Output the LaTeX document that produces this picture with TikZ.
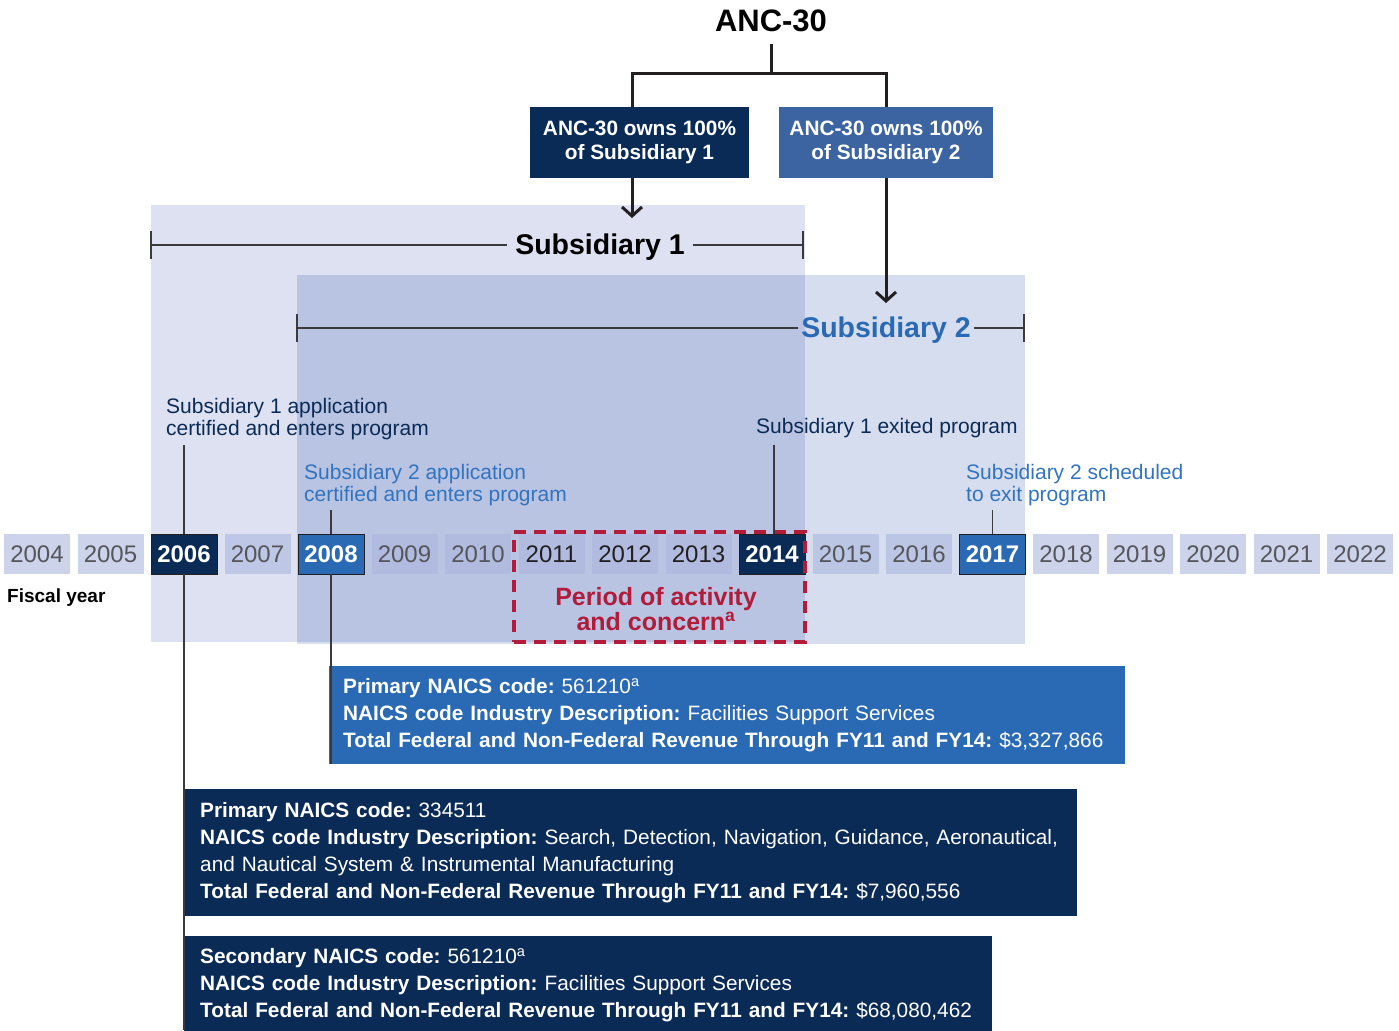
\documentclass[tikz,border=0pt]{standalone}
\usepackage{fontspec}
\setmainfont{Liberation Sans}
\usetikzlibrary{arrows.meta}
\definecolor{navy}{HTML}{0B2B57}
\definecolor{midblue}{HTML}{2A6AB4}
\definecolor{ownblue}{HTML}{3B64A0}
\definecolor{subone}{HTML}{DDE1F1}
\definecolor{subtwo}{HTML}{D6DDEF}
\definecolor{overlap}{HTML}{B9C3E2}
\definecolor{yearfill}{HTML}{AAB6DE}
\definecolor{yeartext}{HTML}{55565A}
\definecolor{concern}{HTML}{B01C3A}
\definecolor{ink}{HTML}{231F20}
\definecolor{annotblue}{HTML}{3274C0}
\definecolor{rule}{HTML}{3A3A3C}
\newcommand{\setfs}[2][]{\fontsize{#2}{#2}\selectfont}
\newcommand{\setfsl}[2]{\fontsize{#1}{#2}\selectfont}
\frenchspacing
\begin{document}
\begin{tikzpicture}[x=1pt,y=-1pt,
  yearbox/.style={minimum width=66, minimum height=40, inner sep=0, font=\setfs{24}},
  plainyr/.style={yearbox, fill=yearfill, fill opacity=0.6, text opacity=1, text=yeartext},
  darkyr/.style={plainyr, text=ink},
  navyyr/.style={yearbox, fill=navy, draw=ink, line width=0.8, text=white, font=\bfseries\setfs{24}},
  blueyr/.style={yearbox, fill=midblue, draw=ink, line width=0.8, text=white, font=\bfseries\setfs{24}},
  ownbox/.style={minimum width=#1, minimum height=71, inner sep=0, align=center, text=white,
    font=\bfseries\setfsl{20.8}{24}},
  tree/.style={draw=ink, line width=3, line join=miter},
  barb/.style={-{Straight Barb[length=9pt,width=20pt,line width=3pt]}},
  bracket/.style={draw=rule, line width=1.3},
  annot/.style={anchor=west, inner sep=0, align=left, font=\setfsl{21}{22}},
  annotline/.style={draw=rule, line width=1.3},
  naics/.style={anchor=north west, minimum height=98, inner xsep=#1, inner ysep=0, align=left,
    text=white, font=\frenchspacing\setfsl{20.8}{26.7}},
  concernbox/.style={draw=concern, line width=3.5, dash pattern=on 12pt off 8pt,
    minimum width=291, minimum height=110, inner sep=0}
]
\useasboundingbox (0,0) rectangle (1399,1030);

% shaded spans of the two subsidiaries
\fill[subone] (151,205) rectangle (805,642);
\fill[subtwo] (297,275) rectangle (1025,644);
\fill[overlap] (297,275) rectangle (805,642);

% ownership tree
\node[font=\bfseries\setfs{31}, inner sep=0] (anc) at (771,21) {ANC-30};
\node[ownbox=219, fill=navy] (own1) at (639.5,142.5) {ANC-30 owns 100\%\\of Subsidiary 1};
\node[ownbox=214, fill=ownblue] (own2) at (886,142.5) {ANC-30 owns 100\%\\of Subsidiary 2};
\coordinate (split) at (771,74);
\draw[tree] (anc.south |- 0,44) -- (split);
\draw[tree] ([xshift=-7.5]own1.north) |- (split) -| (own2.north);

% subsidiary span brackets
\node[font=\bfseries\setfs{28.5}, inner xsep=8, inner ysep=0] (sub1lab) at (600,247) {Subsidiary 1};
\node[font=\bfseries\setfs{28.5}, inner xsep=3, inner ysep=0, text=midblue] (sub2lab) at (886,330) {Subsidiary 2};
\coordinate (s1l) at (151,245);
\coordinate (s1r) at (803,245);
\coordinate (s2l) at (297,328);
\coordinate (s2r) at (1024,328);
\draw[bracket] (s1l) -- (sub1lab.west |- s1l) (sub1lab.east |- s1r) -- (s1r);
\draw[bracket] (s2l) -- (sub2lab.west |- s2l) (sub2lab.east |- s2r) -- (s2r);
\foreach \c in {s1l,s1r,s2l,s2r}
  \draw[bracket] ([yshift=14]\c) -- ([yshift=-14]\c);

\coordinate (tip1) at (632,218);
\coordinate (tip2) at (886,303);
\draw[tree, barb] ([xshift=-7.5]own1.south) -- (tip1);
\draw[tree, barb] (own2.south) -- (tip2);

% fiscal year row
\foreach \yr/\sty in {2004/plainyr,2005/plainyr,2006/navyyr,2007/plainyr,2008/blueyr,
    2009/plainyr,2010/plainyr,2011/darkyr,2012/darkyr,2013/darkyr,2014/navyyr,
    2015/plainyr,2016/plainyr,2017/blueyr,2018/plainyr,2019/plainyr,2020/plainyr,
    2021/plainyr,2022/plainyr}
  \node[\sty] (y\yr) at ({37+73.5*(\yr-2004)},554) {\yr};
\node[anchor=west, inner sep=0, font=\bfseries\setfs{19}] (fy) at (7,598) {Fiscal year};

% period of activity
\node[concernbox] (period) at (659.5,587) {};
\node[inner sep=0, align=center, text=concern, font=\bfseries\setfsl{25}{25.5}] (periodlab) at (656,609)
  {Period of activity\\and concern\textsuperscript{a}};

% milestone notes
\node[annot, text=navy] (ann1) at (166,419) {Subsidiary 1 application\\certified and enters program};
\node[annot, text=annotblue] (ann2) at (304,485) {Subsidiary 2 application\\certified and enters program};
\node[annot, text=navy] (ann3) at (756,428) {Subsidiary 1 exited program};
\node[annot, text=annotblue] (ann4) at (966,485) {Subsidiary 2 scheduled\\to exit program};

% NAICS boxes
\node[naics=14, fill=midblue, minimum width=796, text width=768] (naics1) at (329,666)
  {\textbf{Primary NAICS code:} 561210\textsuperscript{a}\\
   \textbf{NAICS code Industry Description:} Facilities Support Services\\
   \mbox{\textbf{Total Federal and Non-Federal Revenue Through FY11 and FY14:} \$3,327,866}};
\node[naics=16, fill=navy, minimum width=893, minimum height=127, text width=861] (naics2) at (184,789)
  {\textbf{Primary NAICS code:} 334511\\
   \mbox{\textbf{NAICS code Industry Description:} Search, Detection, Navigation, Guidance, Aeronautical,}\\
   and Nautical System \& Instrumental Manufacturing\\
   \mbox{\textbf{Total Federal and Non-Federal Revenue Through FY11 and FY14:} \$7,960,556}};
\node[naics=16, fill=navy, minimum width=808, text width=776] (naics3) at (184,936)
  {\textbf{Secondary NAICS code:} 561210\textsuperscript{a}\\
   \textbf{NAICS code Industry Description:} Facilities Support Services\\
   \mbox{\textbf{Total Federal and Non-Federal Revenue Through FY11 and FY14:} \$68,080,462}};

% leader lines
\draw[annotline] (y2006.north |- 0,445) -- (y2006.north);
\draw[annotline] (y2006.south) -- (y2006.south |- 0,1030);
\draw[annotline] (y2008.north |- 0,510) -- (y2008.north);
\draw[annotline] (y2008.south) -- (y2008.south |- naics1.south);
\draw[annotline] ([xshift=2]y2014.north |- 0,445) -- ([xshift=2]y2014.north);
\draw[annotline] (y2017.north |- 0,510) -- (y2017.north);
\end{tikzpicture}
\end{document}
